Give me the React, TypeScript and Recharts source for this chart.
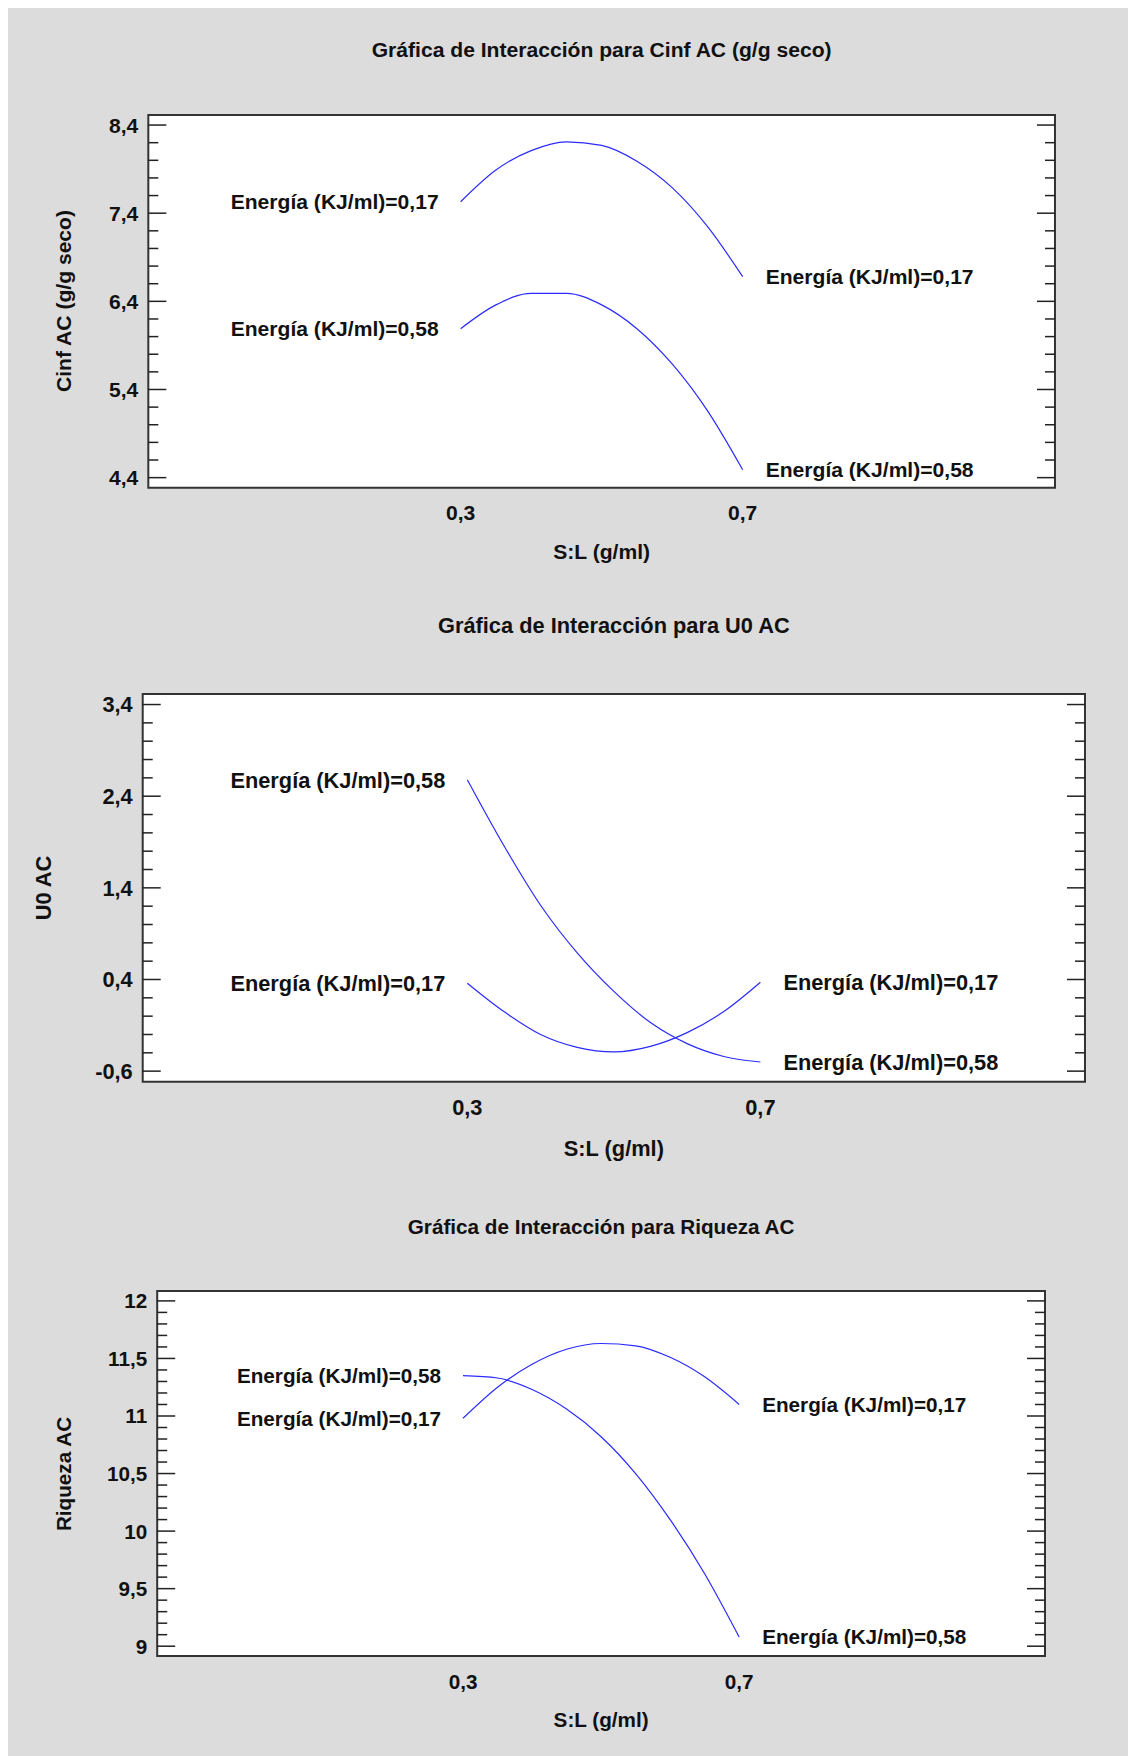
import React from 'react';
import { LineChart, Line, XAxis, YAxis, CartesianGrid, ReferenceArea } from 'recharts';

// S:L (g/ml) sample points shared by every panel
const SL = [0.3, 0.35, 0.4, 0.45, 0.5, 0.55, 0.6, 0.65, 0.7];
const X_TICKS = [0.3, 0.7];
const X_DOMAIN: [number, number] = [-0.143, 1.143];

// Cinf AC (g/g seco)
const CINF_017 = [7.53, 7.89, 8.11, 8.21, 8.17, 7.99, 7.69, 7.25, 6.68];
const CINF_058 = [6.09, 6.36, 6.49, 6.49, 6.36, 6.09, 5.69, 5.16, 4.49];
const CINF_MAJOR = [4.4, 5.4, 6.4, 7.4, 8.4];
const CINF_MINOR = [4.6, 4.8, 5.0, 5.2, 5.6, 5.8, 6.0, 6.2, 6.6, 6.8, 7.0, 7.2, 7.6, 7.8, 8.0, 8.2];

// U0 AC
const U0_017 = [0.36, 0.05, -0.2, -0.34, -0.39, -0.33, -0.18, 0.05, 0.37];
const U0_058 = [2.58, 1.86, 1.21, 0.69, 0.27, -0.07, -0.3, -0.44, -0.5];
const U0_MAJOR = [-0.6, 0.4, 1.4, 2.4, 3.4];
const U0_MINOR = [-0.4, -0.2, 0.0, 0.2, 0.6, 0.8, 1.0, 1.2, 1.6, 1.8, 2.0, 2.2, 2.6, 2.8, 3.0, 3.2];

// Riqueza AC
const RIQ_017 = [10.98, 11.25, 11.45, 11.58, 11.63, 11.61, 11.51, 11.34, 11.1];
const RIQ_058 = [11.35, 11.33, 11.23, 11.06, 10.82, 10.5, 10.1, 9.63, 9.08];
const RIQ_MAJOR = [9, 9.5, 10, 10.5, 11, 11.5, 12];
const RIQ_MINOR = [
  9.1, 9.2, 9.3, 9.4, 9.6, 9.7, 9.8, 9.9, 10.1, 10.2, 10.3, 10.4, 10.6, 10.7, 10.8, 10.9,
  11.1, 11.2, 11.3, 11.4, 11.6, 11.7, 11.8, 11.9,
];

const LABEL_017 = 'Energía (KJ/ml)=0,17';
const LABEL_058 = 'Energía (KJ/ml)=0,58';

const FONT = "'Liberation Sans', Arial, Helvetica, sans-serif";
const INK = '#111';
const W = 1128;

const fmt = (v: number) => String(v).replace('.', ',');

const buildRows = (a: number[], b: number[]) =>
  SL.map((sl, i) => ({ sl, e017: a[i], e058: b[i] }));

// labels at both ends of each curve, drawn through the dot renderer
const endLabels = (text: string, last: number, fs: number) => (p: any) => {
  const { cx, cy, index } = p;
  if (index !== 0 && index !== last) return <g key={`d-${index}`} />;
  const left = index === 0;
  return (
    <text
      key={`d-${index}`}
      x={left ? cx - 22 : cx + 23}
      y={cy}
      dy="0.36em"
      textAnchor={left ? 'end' : 'start'}
      fontFamily={FONT}
      fontWeight={700}
      fontSize={fs}
      fill={INK}
    >
      {text}
    </text>
  );
};

type PanelProps = {
  title: string;
  yLabel: string;
  s017: number[];
  s058: number[];
  yDomain: [number, number];
  major: number[];
  minor: number[];
  left: number;
  right: number;
  top: number;
  bottom: number;
  titleY: number;
  xLabelY: number;
  yLabelX: number;
  fs: number;
};

function Panel(props: PanelProps) {
  const { title, yLabel, s017, s058, yDomain, major, minor, left, right, top, bottom, titleY, xLabelY, yLabelX, fs } =
    props;
  const data = buildRows(s017, s058);
  const plotW = right - left;
  const plotH = bottom - top;
  const cx = (left + right) / 2;
  const cy = (top + bottom) / 2;
  const yTicks = [...major, ...minor].sort((a, b) => a - b);

  const textStyle: React.CSSProperties = {
    position: 'absolute',
    transform: 'translate(-50%, -50%)',
    whiteSpace: 'nowrap',
    fontFamily: FONT,
    fontWeight: 700,
    fontSize: fs,
    lineHeight: 1,
    color: INK,
  };

  const yTick = (p: any) => {
    const { x, y, payload } = p;
    const isMajor = major.some((m) => Math.abs(m - payload.value) < 1e-6);
    const len = isMajor ? 18 : 10;
    return (
      <g>
        <line x1={x} x2={x + len} y1={y} y2={y} stroke="#222" strokeWidth={1.5} />
        <line x1={x + plotW - len} x2={x + plotW} y1={y} y2={y} stroke="#222" strokeWidth={1.5} />
        {isMajor && (
          <text x={x - 10} y={y} dy="0.36em" textAnchor="end" fontFamily={FONT} fontWeight={700} fontSize={fs} fill={INK}>
            {fmt(payload.value)}
          </text>
        )}
      </g>
    );
  };

  const xTick = (p: any) => (
    <text x={p.x} y={p.y + 25} dy="0.36em" textAnchor="middle" fontFamily={FONT} fontWeight={700} fontSize={fs} fill={INK}>
      {fmt(p.payload.value)}
    </text>
  );

  return (
    <>
      <div style={{ ...textStyle, left: cx, top: titleY }}>{title}</div>
      <div style={{ ...textStyle, left: cx, top: xLabelY }}>S:L (g/ml)</div>
      <div style={{ ...textStyle, left: yLabelX, top: cy, transform: 'translate(-50%, -50%) rotate(-90deg)' }}>
        {yLabel}
      </div>
      <div style={{ position: 'absolute', left: 0, top: top - 10 }}>
        <LineChart
          width={W}
          height={plotH + 50}
          data={data}
          margin={{ top: 10, right: W - right, bottom: 0, left: left - 60 }}
        >
          <CartesianGrid horizontal={false} vertical={false} fill="#ffffff" />
          <XAxis
            dataKey="sl"
            type="number"
            domain={X_DOMAIN}
            ticks={X_TICKS}
            height={40}
            tickSize={0}
            tickMargin={0}
            axisLine={false}
            tickLine={false}
            tick={xTick}
          />
          <YAxis
            type="number"
            domain={yDomain}
            ticks={yTicks}
            width={60}
            tickSize={0}
            tickMargin={0}
            axisLine={false}
            tickLine={false}
            interval={0}
            tick={yTick}
          />
          <ReferenceArea
            x1={X_DOMAIN[0]}
            x2={X_DOMAIN[1]}
            y1={yDomain[0]}
            y2={yDomain[1]}
            fill="none"
            stroke="#333"
            strokeWidth={2}
          />
          <Line
            type="monotone"
            dataKey="e017"
            stroke="#2b2bff"
            strokeWidth={1.2}
            dot={endLabels(LABEL_017, SL.length - 1, fs)}
            activeDot={false}
            isAnimationActive={false}
          />
          <Line
            type="monotone"
            dataKey="e058"
            stroke="#2b2bff"
            strokeWidth={1.2}
            dot={endLabels(LABEL_058, SL.length - 1, fs)}
            activeDot={false}
            isAnimationActive={false}
          />
        </LineChart>
      </div>
    </>
  );
}

export default function App() {
  return (
    <div style={{ position: 'relative', width: W, height: 1750, marginTop: -2, background: '#dcdcdc' }}>
      <Panel
        title="Gráfica de Interacción para Cinf AC (g/g seco)"
        yLabel="Cinf AC (g/g seco)"
        s017={CINF_017}
        s058={CINF_058}
        yDomain={[4.286, 8.514]}
        major={CINF_MAJOR}
        minor={CINF_MINOR}
        left={140.3}
        right={1047}
        top={109}
        bottom={481.7}
        titleY={44}
        xLabelY={546}
        yLabelX={56}
        fs={21.1}
      />
      <Panel
        title="Gráfica de Interacción para U0 AC"
        yLabel="U0 AC"
        s017={U0_017}
        s058={U0_058}
        yDomain={[-0.715, 3.515]}
        major={U0_MAJOR}
        minor={U0_MINOR}
        left={134.7}
        right={1077}
        top={688}
        bottom={1075.7}
        titleY={620}
        xLabelY={1142.5}
        yLabelX={35.5}
        fs={21.8}
      />
      <Panel
        title="Gráfica de Interacción para Riqueza AC"
        yLabel="Riqueza AC"
        s017={RIQ_017}
        s058={RIQ_058}
        yDomain={[8.914, 12.086]}
        major={RIQ_MAJOR}
        minor={RIQ_MINOR}
        left={149.2}
        right={1037}
        top={1285.4}
        bottom={1650.5}
        titleY={1221}
        xLabelY={1713.5}
        yLabelX={55.5}
        fs={20.7}
      />
    </div>
  );
}
